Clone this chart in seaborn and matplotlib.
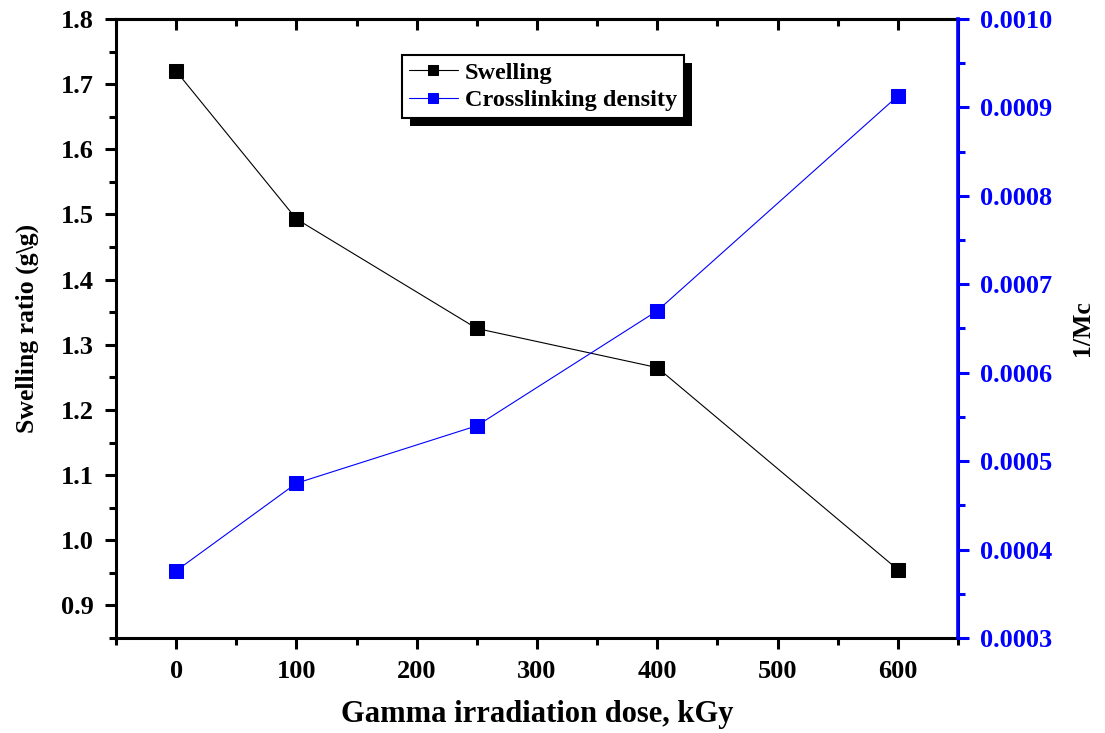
import numpy as np
import pandas as pd
import seaborn as sns
import matplotlib.pyplot as plt
from matplotlib.patches import Rectangle
from matplotlib.ticker import MultipleLocator

#%% Data
dose = [0, 100, 250, 400, 600]
swelling = [1.72, 1.493, 1.325, 1.265, 0.955]
crosslink = [0.000376, 0.000475, 0.000540, 0.000670, 0.000913]

df = pd.DataFrame({'dose': dose, 'swelling': swelling, 'crosslink': crosslink})

#%% Style
sns.set_style("ticks")
plt.rcParams['font.family'] = ['Liberation Serif', 'DejaVu Serif']
plt.rcParams['font.weight'] = 'bold'
plt.rcParams['axes.linewidth'] = 2.2
plt.rcParams['axes.edgecolor'] = 'black'
plt.rcParams['axes.labelcolor'] = 'black'
plt.rcParams['text.color'] = 'black'

fig = plt.figure(figsize=(11.05, 7.33), dpi=100)
ax = fig.add_axes([116/1105, 95/733, 842/1105, 619/733])
ax.set_facecolor('none')
ax2 = ax.twinx()
ax2.set_facecolor('none')

sns.lineplot(ax=ax, data=df, x='dose', y='swelling', color='black', marker='s',
             markersize=10, linewidth=0.8, markeredgecolor='black', label='Swelling', legend=False)
sns.lineplot(ax=ax2, data=df, x='dose', y='crosslink', color='blue', marker='s',
             markersize=10, linewidth=0.8, markeredgecolor='blue', label='Crosslinking density', legend=False)

ax.set_xlim(-50, 650)
ax.set_ylim(0.85, 1.8)
ax2.set_ylim(0.0003, 0.0010)

ax.xaxis.set_minor_locator(MultipleLocator(50))
ax.yaxis.set_minor_locator(MultipleLocator(0.05))
ax2.yaxis.set_minor_locator(MultipleLocator(0.00005))
ax.set_xticks(np.arange(0, 700, 100))
ax.set_yticks(np.arange(0.9, 1.81, 0.1))
ax.set_yticklabels([f'{v:.1f}' for v in np.arange(0.9, 1.81, 0.1)])
ax2.set_yticks(np.arange(0.0003, 0.00101, 0.0001))
ax2.set_yticklabels([f'{v:.4f}' for v in np.arange(0.0003, 0.00101, 0.0001)])

ax.tick_params(axis='both', which='major', direction='out', length=8, width=2.2,
               labelsize=19, pad=8, colors='black')
ax.tick_params(axis='both', which='minor', direction='out', length=5, width=2.2, colors='black')

# top axis: inward ticks, no labels
top = ax.secondary_xaxis('top')
top.set_xticks(np.arange(0, 700, 100))
top.xaxis.set_minor_locator(MultipleLocator(50))
top.tick_params(axis='x', which='major', direction='in', length=8, width=2.2,
                labeltop=False, colors='black')
top.tick_params(axis='x', which='minor', direction='in', length=5, width=2.2, colors='black')
top.spines['top'].set_linewidth(2.2)

ax2.tick_params(axis='y', which='major', direction='out', length=8, width=2.2,
                labelsize=19, colors='blue', pad=8)
ax2.tick_params(axis='y', which='minor', direction='out', length=5, width=2.2, colors='blue')
ax2.spines['right'].set_color('blue')
ax2.spines['right'].set_linewidth(2.6)
for s in ['left', 'top', 'bottom']:
    ax2.spines[s].set_visible(False)

ax.set_xlabel('Gamma irradiation dose, kGy', fontsize=22, fontweight='bold', labelpad=12)
ax.set_ylabel('Swelling ratio (g\\g)', fontsize=18.5, fontweight='bold', labelpad=16)
ax2.set_ylabel('1/Mc', fontsize=18.5, fontweight='bold', color='black', labelpad=13)

h1, l1 = ax.get_legend_handles_labels()
h2, l2 = ax2.get_legend_handles_labels()
leg = ax2.legend(h1 + h2, l1 + l2, loc='upper left', bbox_to_anchor=(0.34, 0.942),
                 borderaxespad=0, fancybox=False, frameon=True, edgecolor='black',
                 fontsize=17.5, handlelength=2.0, markerscale=0.7, borderpad=0.28,
                 labelspacing=0.22, handletextpad=0.3)
leg.get_frame().set_linewidth(1.5)
leg.get_frame().set_alpha(1)

# black drop shadow behind the legend box
fig.canvas.draw()
bb = leg.get_window_extent()
fig.patches.append(Rectangle((bb.x0 + 8, bb.y0 - 8), bb.width, bb.height,
                             transform=None, facecolor='black', edgecolor='none', zorder=-1))

fig.savefig('out.png', dpi=100)
